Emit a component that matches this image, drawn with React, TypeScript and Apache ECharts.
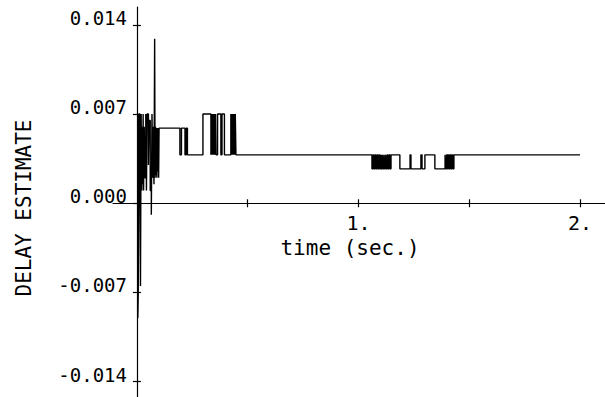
import React, { useEffect, useRef } from "react";
import * as echarts from "echarts";

// time (sec.) at which each step begins, and the delay estimate held from there
const times: number[] = [
  0.0, 0.004, 0.006, 0.009, 0.013, 0.016, 0.019, 0.022, 0.024, 0.026, 0.028, 0.03, 0.033, 0.036,
  0.04, 0.043, 0.046, 0.052, 0.055, 0.06, 0.065, 0.068, 0.071, 0.074, 0.077, 0.08, 0.082, 0.084,
  0.086, 0.088, 0.09, 0.092, 0.094, 0.096, 0.098, 0.1,
  0.194, 0.201, 0.217, 0.223, 0.228,
  0.298, 0.334, 0.336, 0.338, 0.34, 0.343, 0.345, 0.348, 0.35, 0.353, 0.355, 0.357,
  0.364, 0.379, 0.384, 0.395,
  0.424, 0.427, 0.429, 0.432, 0.434, 0.437, 0.439, 0.442, 0.444, 0.447,
  1.061, 1.066, 1.07, 1.075, 1.079, 1.084, 1.088, 1.093, 1.097, 1.102, 1.104, 1.108, 1.111,
  1.115, 1.118, 1.122, 1.125, 1.129, 1.133, 1.138, 1.142, 1.147,
  1.187, 1.233, 1.237, 1.282, 1.287, 1.3, 1.345,
  1.391, 1.394, 1.398, 1.402, 1.406, 1.41, 1.414, 1.418, 1.422, 1.426, 1.431,
  2.0,
];
const values: number[] = [
  0.007, -0.009, -0.007, 0.007, 0.002, -0.0065, 0.007, 0.001, 0.006, 0.0015, 0.007, 0.001, 0.006, 0.002,
  0.007, 0.001, 0.007, 0.003, 0.0065, 0.001, -0.0009, 0.007, 0.002, 0.006, 0.0015, 0.0129, 0.002, 0.006,
  0.0022, 0.0059, 0.002, 0.0059, 0.0025, 0.0059, 0.002, 0.0059,
  0.0038, 0.0059, 0.0038, 0.0059, 0.0038,
  0.007, 0.0038, 0.007, 0.0038, 0.007, 0.0038, 0.007, 0.0038, 0.007, 0.0038, 0.007, 0.0038,
  0.007, 0.0038, 0.007, 0.0038,
  0.007, 0.0038, 0.007, 0.0038, 0.007, 0.0038, 0.007, 0.0038, 0.007, 0.0038,
  0.0027, 0.0038, 0.0027, 0.0038, 0.0027, 0.0038, 0.0027, 0.0038, 0.0027, 0.0038, 0.0027, 0.0038, 0.0027,
  0.0038, 0.0027, 0.0038, 0.0027, 0.0038, 0.0027, 0.0038, 0.0027, 0.0038,
  0.0027, 0.0038, 0.0027, 0.0038, 0.0027, 0.0038, 0.0027,
  0.0038, 0.0027, 0.0038, 0.0027, 0.0038, 0.0027, 0.0038, 0.0027, 0.0038, 0.0027, 0.0038,
  0.0038,
];

const yTickValues: number[] = [-0.014, -0.007, 0, 0.007, 0.014];
const xTickValues: number[] = [0.5, 1, 1.5, 2];
const xLabelValues: number[] = [1, 2];

const yTitle = "DELAY ESTIMATE";
const xTitle = "time (sec.)";

const FONT = "'DejaVu Sans Mono', monospace";

export default function App() {
  const ref = useRef<HTMLDivElement>(null);

  useEffect(() => {
    if (!ref.current) return;
    const chart = echarts.init(ref.current, undefined, { renderer: "svg" });
    const data = times.map((t, i) => [t, values[i]]);
    const xMin = -0.108;
    const xMax = 2.113;
    const yMin = -0.0152;
    const yMax = 0.0154;
    const ink = "#000";

    chart.setOption({
      animation: false,
      backgroundColor: "#fff",
      grid: { left: 113, right: 0, top: 7, bottom: 0, containLabel: false, outerBoundsMode: "none" },
      xAxis: [
        {
          type: "value",
          min: xMin,
          max: xMax,
          position: "bottom",
          axisLine: { show: true, onZero: true, lineStyle: { color: ink, width: 1.2 } },
          axisTick: { show: true, inside: false, length: 4, customValues: xTickValues, lineStyle: { color: ink, width: 1.2 } },
          axisLabel: {
            show: true,
            customValues: xLabelValues,
            formatter: (v: number) => `${v}.`,
            margin: -182,
            color: ink,
            fontFamily: FONT,
            fontSize: 20,
            lineHeight: 16,
          },
          splitLine: { show: false },
        },
        {
          type: "value",
          min: xMin,
          max: xMax,
          position: "bottom",
          axisLine: { show: false, onZero: true, onZeroAxisIndex: 0 },
          axisTick: { show: true, inside: true, length: 4, customValues: xTickValues, lineStyle: { color: ink, width: 1.2 } },
          axisLabel: { show: false },
          splitLine: { show: false },
        },
      ],
      yAxis: [
        {
          type: "value",
          min: yMin,
          max: yMax,
          position: "left",
          axisLine: { show: true, onZero: true, lineStyle: { color: ink, width: 1.2 } },
          axisTick: { show: true, inside: false, length: 4, customValues: yTickValues, lineStyle: { color: ink, width: 1.2 } },
          axisLabel: {
            show: true,
            customValues: yTickValues,
            formatter: (v: number) => v.toFixed(3),
            margin: -14,
            color: ink,
            fontFamily: FONT,
            fontSize: 19,
            verticalAlign: "bottom",
            lineHeight: 14,
          },
          splitLine: { show: false },
        },
        {
          type: "value",
          min: yMin,
          max: yMax,
          position: "left",
          axisLine: { show: false, onZero: true, onZeroAxisIndex: 0 },
          axisTick: { show: true, inside: true, length: 4, customValues: yTickValues, lineStyle: { color: ink, width: 1.2 } },
          axisLabel: { show: false },
          splitLine: { show: false },
        },
      ],
      graphic: [
        {
          type: "text",
          x: 24,
          y: 208,
          rotation: Math.PI / 2,
          style: {
            text: yTitle,
            fill: ink,
            font: `21px ${FONT}`,
            textAlign: "center",
            textVerticalAlign: "middle",
          },
        },
        {
          type: "text",
          x: 350,
          y: 248,
          style: {
            text: xTitle,
            fill: ink,
            font: `21px ${FONT}`,
            textAlign: "center",
            textVerticalAlign: "middle",
          },
        },
      ],
      series: [
        {
          type: "line",
          xAxisIndex: 0,
          yAxisIndex: 0,
          step: "end",
          showSymbol: false,
          symbol: "none",
          data,
          lineStyle: { color: ink, width: 1.4 },
        },
      ],
    });

    return () => chart.dispose();
  }, []);

  return (
    <div
      ref={ref}
      style={{ position: "fixed", left: 0, top: 0, width: 605, height: 397, background: "#fff" }}
    />
  );
}
